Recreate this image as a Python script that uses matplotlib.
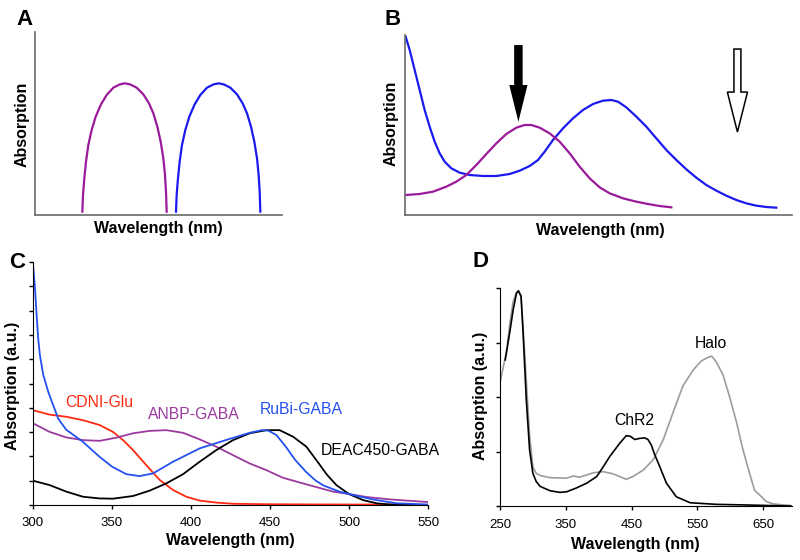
import matplotlib
matplotlib.use("Agg")
import matplotlib.pyplot as plt
import matplotlib.patches as mpatches

plt.rcParams['font.family'] = ['Liberation Sans', 'DejaVu Sans']

# ---------------- Panel A (schematic, arbitrary units) ----------------
a_purple_x = [19.16, 19.43, 19.97, 20.65, 21.59, 22.94, 24.56, 26.72, 29.01, 31.71, 34.41,
              36.44, 38.46, 41.16, 43.86, 46.15, 47.91, 49.53, 50.88, 51.96, 52.63, 53.04, 53.31]
a_purple_y = [1.82, 10.93, 20.04, 29.14, 38.25, 46.45, 53.73, 60.47, 65.57, 69.58, 71.4,
              71.95, 71.4, 69.58, 65.94, 61.02, 55.56, 48.27, 40.07, 30.97, 21.86, 12.75, 1.82]
a_blue_x = [57.08, 57.35, 57.89, 58.57, 59.51, 60.86, 62.48, 64.64, 66.93, 69.63, 72.33,
            74.36, 76.38, 79.08, 81.78, 84.07, 85.83, 87.45, 88.80, 89.88, 90.55, 90.96, 91.23]
a_blue_y = [1.82, 10.93, 20.04, 29.14, 38.25, 46.45, 53.73, 60.47, 65.57, 69.58, 71.4,
            71.95, 71.4, 69.58, 65.94, 61.02, 55.56, 48.27, 40.07, 30.97, 21.86, 12.75, 1.82]

# ---------------- Panel B (schematic, arbitrary units) ----------------
b_blue_x = [0.17, 1.21, 2.50, 3.79, 5.08, 6.37, 7.67, 8.96, 10.25, 11.97, 14.13, 16.71,
            20.16, 23.6, 27.05, 29.63, 32.21, 34.37, 36.09, 38.24, 40.83, 43.41, 45.99,
            48.58, 51.16, 53.32, 55.04, 57.19, 59.78, 62.36, 64.94, 67.53, 70.11, 72.70,
            75.28, 77.86, 80.45, 83.03, 85.62, 88.2, 90.78, 93.37, 95.95]
b_blue_y = [99.07, 91.67, 80.56, 69.44, 58.33, 49.07, 40.74, 34.26, 29.63, 25.93, 23.52,
            22.22, 21.67, 21.67, 22.78, 24.63, 27.22, 30.56, 35.19, 41.67, 48.15, 53.7,
            58.33, 61.67, 63.52, 63.89, 62.96, 59.81, 54.63, 49.07, 42.59, 36.11, 30.56,
            25.37, 20.74, 16.67, 13.52, 10.74, 8.33, 6.48, 5.19, 4.44, 4.07]
b_purple_x = [0.17, 3.79, 7.24, 10.68, 13.26, 15.85, 18.43, 21.02, 23.6, 26.18, 28.77,
              30.92, 32.64, 34.8, 37.38, 39.97, 42.55, 45.13, 47.72, 50.3, 52.89, 56.33,
              59.78, 63.22, 65.81, 68.82]
b_purple_y = [11.11, 11.67, 12.96, 15.74, 18.52, 22.22, 27.78, 33.89, 39.81, 45.0, 48.52,
              50.0, 50.0, 48.52, 45.37, 40.74, 34.26, 26.85, 20.37, 15.37, 12.04, 9.26,
              7.41, 5.93, 5.0, 4.26]

# ---------------- Panel C (nm, a.u.) ----------------
c_ticks = [300, 350, 400, 450, 500, 550]
cdni_nm = [300, 310.5, 321.1, 331.6, 342.2, 350.6, 357, 363.3, 371.7, 380.2, 388.6, 397,
           405.5, 416, 426.6, 450, 500, 530]
cdni_y = [3.9, 3.72, 3.63, 3.49, 3.29, 3.01, 2.67, 2.26, 1.64, 1.03, 0.62, 0.34,
          0.18, 0.1, 0.05, 0.03, 0.02, 0.02]
anbp_nm = [300, 310.5, 321.1, 331.6, 342.2, 352.7, 363.3, 373.8, 384.4, 395, 405.5, 416,
           426.6, 437.1, 447.5, 458.2, 473, 489.9, 500, 511, 526, 550]
anbp_y = [3.36, 3.01, 2.78, 2.67, 2.64, 2.77, 2.95, 3.05, 3.08, 2.97, 2.7, 2.4,
          2.05, 1.71, 1.44, 1.12, 0.85, 0.55, 0.45, 0.33, 0.23, 0.12]
rubi_nm = [300, 301.3, 302.3, 303.3, 304.4, 306.5, 309.7, 312.8, 316, 321, 331.6, 342,
           350, 359, 367.5, 376, 388.6, 405.5, 422, 437, 445, 449, 454, 460, 466, 473,
           479, 484, 494, 500, 515, 530, 550]
rubi_y = [9.9, 8.9, 7.8, 6.85, 6.15, 5.35, 4.65, 4.1, 3.55, 3.1, 2.6, 1.99,
          1.58, 1.27, 1.19, 1.3, 1.78, 2.33, 2.67, 2.97, 3.08, 3.06, 2.88, 2.4, 1.85, 1.35,
          1.0, 0.8, 0.55, 0.45, 0.23, 0.07, 0.02]
deac_nm = [300, 310.5, 321.1, 331.6, 342.2, 350.6, 363.3, 373.8, 384.4, 395, 405.5, 416,
           426.6, 437.1, 447.7, 456.1, 464.6, 473, 481, 486, 492, 500, 509, 517.5, 526, 550]
deac_y = [1.0, 0.82, 0.55, 0.34, 0.27, 0.26, 0.37, 0.59, 0.89, 1.27, 1.78, 2.26,
          2.67, 2.95, 3.08, 3.08, 2.81, 2.4, 1.7, 1.25, 0.82, 0.45, 0.2, 0.07, 0.02, 0.0]

# ---------------- Panel D (nm, a.u.) ----------------
d_ticks = [250, 350, 450, 550, 650]
halo_nm = [250, 255, 260, 265, 270, 275, 278, 282, 285, 290, 295, 300, 305, 311, 326, 351,
           361, 371, 382, 392, 407, 422, 442, 452, 468, 483, 498, 513, 528, 544, 556, 565,
           572, 579, 589, 599, 610, 618, 625, 637, 645, 655, 665, 680, 692]
halo_y = [2.26, 2.55, 2.85, 3.35, 3.75, 3.92, 3.94, 3.85, 3.3, 2.3, 1.3, 0.72, 0.6, 0.56,
          0.52, 0.51, 0.55, 0.53, 0.57, 0.61, 0.63, 0.59, 0.49, 0.54, 0.66, 0.85, 1.21, 1.71,
          2.2, 2.5, 2.66, 2.72, 2.75, 2.64, 2.41, 2.01, 1.52, 1.1, 0.79, 0.29, 0.2, 0.08,
          0.04, 0.02, 0.01]
chr2_nm = [258, 265, 270, 275, 278, 282, 285, 290, 295, 300, 305, 311, 326, 341, 351, 366,
           382, 397, 407, 417, 432, 442, 448, 455, 462, 470, 475, 480, 485, 493, 503, 518,
           539, 579, 620, 655, 692]
chr2_y = [2.68, 3.2, 3.6, 3.9, 3.95, 3.85, 3.2, 1.95, 1.03, 0.6, 0.45, 0.36, 0.28, 0.25,
          0.26, 0.33, 0.42, 0.54, 0.72, 0.91, 1.15, 1.29, 1.28, 1.22, 1.24, 1.25, 1.22, 1.12,
          0.95, 0.72, 0.42, 0.17, 0.06, 0.03, 0.02, 0.01, 0.0]

PURPLE = '#9a1a9a'
BLUE = '#1a1aee'
SPINE_GRAY = '#6a6a6a'

fig = plt.figure(figsize=(8, 5.6), dpi=100)


def schematic_axes(rect):
    ax = fig.add_axes(rect)
    for s in ('top', 'right'):
        ax.spines[s].set_visible(False)
    for s in ('left', 'bottom'):
        ax.spines[s].set_color(SPINE_GRAY)
        ax.spines[s].set_linewidth(1.2)
    ax.set_xticks([])
    ax.set_yticks([])
    ax.set_xlim(0, 100)
    ax.set_ylim(0, 100)
    return ax


# Panel A
axA = schematic_axes([35 / 800, 1 - 215 / 560, 247 / 800, 183 / 560])
axA.plot(a_purple_x, a_purple_y, color=PURPLE, lw=1.6, solid_joinstyle='round')
axA.plot(a_blue_x, a_blue_y, color=BLUE, lw=1.6, solid_joinstyle='round')

# Panel B
axB = schematic_axes([405 / 800, 1 - 215 / 560, 387 / 800, 180 / 560])
axB.plot(b_blue_x, b_blue_y, color=BLUE, lw=1.6, solid_joinstyle='round')
axB.plot(b_purple_x, b_purple_y, color=PURPLE, lw=1.6, solid_joinstyle='round')
# filled arrow
axB.add_patch(mpatches.FancyArrow(29.3, 94.4, 0, 51.8 - 94.4, width=2.2, head_width=4.7,
                                  head_length=20.4, length_includes_head=True,
                                  color='black', lw=0))
# hollow arrow
axB.add_patch(mpatches.FancyArrow(85.9, 92.2, 0, 46.1 - 92.2, width=1.8, head_width=5.2,
                                  head_length=22.2, length_includes_head=True,
                                  facecolor='white', edgecolor='black', lw=1.1))

# Panel C
axC = fig.add_axes([33 / 800, 1 - 505 / 560, 395 / 800, 243 / 560])
for s in ('top', 'right'):
    axC.spines[s].set_visible(False)
axC.plot(cdni_nm, cdni_y, color='#ff2a10', lw=1.3)
axC.plot(anbp_nm, anbp_y, color='#9b3a9e', lw=1.3)
axC.plot(deac_nm, deac_y, color='black', lw=1.3)
axC.plot(rubi_nm, rubi_y, color='#2450f0', lw=1.3)
axC.set_xlim(300, 550)
axC.set_ylim(0, 10)
axC.set_xticks(c_ticks)
axC.set_yticks(range(0, 11))
axC.set_yticklabels([])
axC.tick_params(axis='both', direction='out', length=3, width=1, labelsize=9.5, pad=6)
axC.text(341.8, 4.22, 'CDNI-Glu', color='#ff2a10', fontsize=11.3, ha='center', va='center')
axC.text(401.5, 3.73, 'ANBP-GABA', color='#9b3a9e', fontsize=11.3, ha='center', va='center')
axC.text(470, 3.95, 'RuBi-GABA', color='#2450f0', fontsize=11.3, ha='center', va='center')
axC.text(519.6, 2.23, 'DEAC450-GABA', color='black', fontsize=11.3, ha='center', va='center',
         clip_on=False)

# Panel D
axD = fig.add_axes([500 / 800, 1 - 506 / 560, 292 / 800, 218 / 560])
for s in ('top', 'right'):
    axD.spines[s].set_visible(False)
axD.plot(halo_nm, halo_y, color='#9c9c9c', lw=1.2)
axD.plot(chr2_nm, chr2_y, color='black', lw=1.2)
axD.set_xlim(250, 694)
axD.set_ylim(0, 4)
axD.set_xticks(d_ticks)
axD.set_yticks(range(0, 5))
axD.set_yticklabels([])
axD.tick_params(axis='both', direction='out', length=3, width=1, labelsize=9.5, pad=6)
axD.text(570.6, 2.99, 'Halo', color='black', fontsize=11.3, ha='center', va='center')
axD.text(454.6, 1.56, 'ChR2', color='black', fontsize=11.3, ha='center', va='center')

# Axis titles (figure coordinates)
bold = dict(fontsize=11.5, fontweight='bold', ha='center', va='center')
fig.text(158 / 800, 1 - 228 / 560, 'Wavelength (nm)', **bold)
fig.text(600 / 800, 1 - 231 / 560, 'Wavelength (nm)', **bold)
fig.text(230 / 800, 1 - 541 / 560, 'Wavelength (nm)', **bold)
fig.text(635 / 800, 1 - 544 / 560, 'Wavelength (nm)', **bold)
fig.text(22.5 / 800, 1 - 124.5 / 560, 'Absorption', rotation=90, **bold)
fig.text(391 / 800, 1 - 123.5 / 560, 'Absorption', rotation=90, **bold)
fig.text(12.5 / 800, 1 - 386 / 560, 'Absorption (a.u.)', rotation=90, **bold)
fig.text(481 / 800, 1 - 396 / 560, 'Absorption (a.u.)', rotation=90, **bold)

# Panel letters
letter = dict(fontsize=16, fontweight='bold', ha='left', va='baseline')
fig.text(16 / 800, 1 - 25 / 560, 'A', **letter)
fig.text(385 / 800, 1 - 25 / 560, 'B', **letter)
fig.text(9 / 800, 1 - 268 / 560, 'C', **letter)
fig.text(472 / 800, 1 - 267 / 560, 'D', **letter)

fig.savefig('out.png', dpi=100)
